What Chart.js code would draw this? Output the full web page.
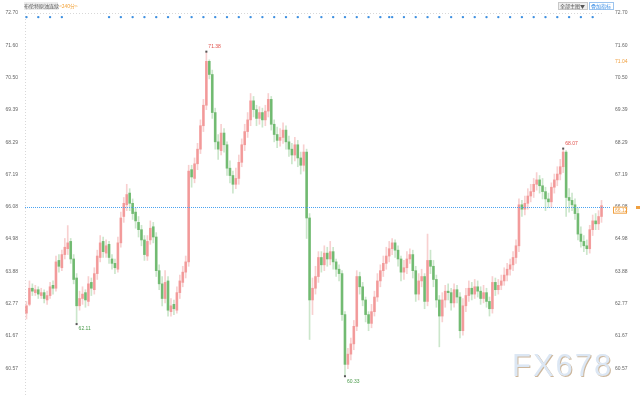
<!DOCTYPE html>
<html>
<head>
<meta charset="utf-8">
<script src="https://cdn.jsdelivr.net/npm/chart.js@4.4.0/dist/chart.umd.min.js"></script>
<style>
  html, body { margin: 0; padding: 0; background: #fff; }
  #wrap { width: 640px; height: 400px; }
</style>
</head>
<body>
<div id="wrap"><canvas id="myChart" width="640" height="400"></canvas></div>
<script>
// 240-minute candles
const opens = [62.45,62.75,63.30,63.15,63.25,63.05,63.15,62.90,63.05,63.40,63.30,64.25,64.00,64.45,64.65,64.90,64.30,63.65,62.70,62.95,
  63.15,62.85,63.50,63.25,63.80,64.35,64.90,64.50,64.80,64.30,64.15,63.95,64.85,65.75,66.15,66.55,66.20,65.90,65.55,65.30,
  64.95,64.40,64.95,65.40,65.05,63.90,63.45,62.95,63.55,62.50,62.75,62.55,63.15,63.50,63.85,64.20,67.35,67.05,67.55,68.05,
  68.85,69.55,71.05,70.60,69.30,68.30,68.00,68.60,68.20,67.40,67.15,66.85,67.05,67.60,68.20,68.65,69.05,69.70,69.40,69.10,
  69.30,69.05,69.35,69.75,68.90,68.55,68.35,68.45,68.70,68.30,68.05,67.85,68.20,67.75,67.50,67.95,65.70,62.90,63.30,63.70,
  64.35,64.10,64.50,64.30,64.55,64.20,63.95,63.80,62.40,60.70,61.05,61.40,62.00,63.70,63.35,62.90,62.40,62.10,62.50,63.00,
  63.55,63.90,64.15,64.40,64.65,64.85,64.60,64.30,63.85,64.00,64.30,64.45,63.90,63.10,63.55,63.70,62.85,64.25,64.05,63.60,
  62.90,62.35,62.90,63.20,63.15,62.80,63.25,63.00,61.85,62.70,63.05,63.30,63.10,63.35,63.20,62.95,63.15,62.85,62.60,63.50,
  63.25,63.40,63.55,63.75,63.95,64.10,64.35,64.75,66.15,66.00,66.20,66.45,66.60,66.85,67.00,66.80,66.60,66.35,66.25,66.75,
  67.00,67.20,67.45,67.95,66.40,66.30,66.15,65.85,65.15,64.90,64.75,64.65,65.30,65.60,65.50,65.75];
const highs = [62.85,63.55,63.45,63.40,63.35,63.30,63.25,63.20,63.50,63.55,64.40,64.45,64.60,65.00,65.44,65.00,64.45,63.80,63.20,63.35,
  63.25,63.70,63.65,64.00,64.60,65.10,65.05,64.95,64.90,64.45,64.30,65.05,65.90,66.40,66.85,66.70,66.35,66.05,65.75,65.45,
  65.10,65.10,65.60,65.55,65.20,64.10,63.70,63.90,63.70,62.95,62.90,63.35,63.75,64.05,64.40,67.50,67.50,67.75,68.25,69.05,
  69.75,71.38,71.10,70.75,69.45,68.55,68.90,68.75,68.30,67.65,67.30,67.40,67.85,68.40,68.90,69.30,69.95,69.85,69.55,69.50,
  69.45,69.55,69.95,69.85,69.05,68.80,68.75,68.95,68.85,68.50,68.25,68.45,68.35,67.95,68.20,68.05,65.85,63.65,64.05,64.55,
  64.55,64.75,64.70,64.90,64.70,64.30,64.10,63.90,62.50,61.25,61.60,62.20,63.90,63.85,63.50,63.00,62.50,62.75,63.20,63.80,
  64.10,64.40,64.70,64.90,65.00,64.95,64.75,64.40,64.25,64.55,64.65,64.60,64.05,63.80,63.95,63.80,65.15,64.60,64.25,63.75,
  63.05,63.15,63.40,63.45,63.30,63.45,63.40,63.15,62.95,63.30,63.55,63.50,63.60,63.55,63.35,63.40,63.30,63.00,63.70,63.65,
  63.60,63.75,64.00,64.15,64.30,64.55,64.95,66.35,66.30,66.45,66.70,66.85,67.05,67.25,67.15,67.05,66.75,66.55,66.90,67.20,
  67.45,67.70,68.07,68.00,66.70,66.55,66.35,66.05,65.40,65.10,64.95,65.45,65.80,65.85,65.95,66.30];
const lows = [62.25,62.70,63.05,63.05,62.95,62.95,62.80,62.75,62.95,63.10,63.20,63.85,63.90,64.30,64.45,64.15,63.45,62.11,62.55,62.75,
  62.65,62.70,63.05,63.10,63.60,64.20,64.35,64.35,64.15,63.95,63.80,63.85,64.70,65.55,65.95,65.95,65.65,65.35,65.05,64.75,
  64.25,64.25,64.80,64.85,63.70,63.25,62.70,62.80,62.35,62.35,62.40,62.45,62.95,63.35,63.65,64.05,66.75,66.90,67.35,67.90,
  68.65,69.40,70.45,69.10,68.05,67.70,67.85,67.95,67.15,66.90,66.55,66.70,66.85,67.45,68.00,68.45,68.85,69.15,68.85,68.90,
  68.80,68.85,69.15,68.70,68.30,68.10,68.15,68.25,68.05,67.80,67.55,67.65,67.45,67.20,67.30,65.00,61.55,62.40,63.10,63.50,
  63.85,63.90,64.05,64.10,63.95,63.70,63.55,62.20,60.33,60.55,60.85,61.20,61.85,63.10,62.70,62.15,61.85,61.95,62.35,62.85,
  63.35,63.70,63.95,64.20,64.45,64.35,64.05,63.55,63.60,63.80,64.15,63.65,62.85,62.90,63.35,62.60,62.70,63.80,63.35,62.65,
  61.30,62.15,62.65,62.90,62.55,62.65,62.80,61.60,61.70,62.50,62.85,62.90,62.95,63.00,62.75,62.80,62.65,62.35,62.45,63.05,
  63.10,63.25,63.40,63.55,63.75,63.90,64.15,64.55,65.75,65.80,66.00,66.25,66.40,66.65,66.55,66.35,65.95,66.05,66.05,66.55,
  66.80,67.00,67.25,65.75,65.90,65.95,65.65,64.95,64.70,64.55,64.45,64.50,65.10,65.30,65.30,65.55];
const closes = [62.70,63.30,63.20,63.25,63.10,63.15,62.95,63.05,63.35,63.30,64.20,64.05,64.45,64.70,64.85,64.30,63.60,62.70,62.95,63.10,
  62.90,63.45,63.30,63.80,64.40,64.85,64.55,64.75,64.35,64.15,64.00,64.85,65.70,66.20,66.50,66.20,65.85,65.60,65.30,64.95,
  64.45,64.90,65.35,65.05,63.90,63.45,62.95,63.50,62.55,62.70,62.60,63.15,63.55,63.85,64.20,67.30,67.10,67.55,68.05,68.85,
  69.55,71.05,70.60,69.30,68.30,68.05,68.60,68.20,67.40,67.15,66.85,67.05,67.60,68.20,68.65,69.05,69.70,69.40,69.10,69.30,
  69.05,69.35,69.75,68.90,68.55,68.35,68.45,68.70,68.30,68.05,67.85,68.20,67.75,67.50,67.95,65.70,62.90,63.30,63.70,64.35,
  64.10,64.50,64.30,64.55,64.20,63.95,63.80,62.40,60.70,61.05,61.40,62.00,63.70,63.35,62.90,62.40,62.10,62.50,63.00,63.55,
  63.90,64.15,64.40,64.65,64.85,64.60,64.30,63.85,64.00,64.30,64.45,63.90,63.10,63.55,63.70,62.85,64.25,64.05,63.60,62.90,
  62.35,62.90,63.20,63.15,62.80,63.25,63.00,61.85,62.70,63.05,63.30,63.10,63.35,63.20,62.95,63.15,62.85,62.60,63.50,63.25,
  63.40,63.55,63.75,63.95,64.10,64.35,64.75,66.15,66.00,66.20,66.45,66.60,66.85,67.00,66.80,66.60,66.35,66.25,66.75,67.00,
  67.20,67.45,67.95,66.40,66.30,66.15,65.85,65.15,64.90,64.75,64.65,65.30,65.60,65.50,65.75,66.12];

const yTicks = [72.70, 71.60, 70.50, 69.39, 68.29, 67.19, 66.08, 64.98, 63.88, 62.77, 61.67, 60.57];
const eventBars = [0,4,8,12,28,32,36,40,44,48,52,56,60,64,68,72,76,80,84,88,92,96,100,104,108,112,116,120,123,124,128,
  132,136,140,144,148,152,156,160,164,168,172,176,180,184,188,192];
const eventLevel = 72.56;
const refLevel = 66.08;     // blue dotted line
const lastPrice = 66.12;
const sideLevel = 71.04;    // orange mark on right axis
const markedHighs = [61, 182];
const markedLows = [17, 108];

const labels = closes.map((_, i) => 'K' + (i + 1));
const isUp = closes.map((c, i) => c >= opens[i]);

const overlay = {
  id: 'overlay',
  beforeDatasetsDraw(chart) {
    const ctx = chart.ctx, a = chart.chartArea;
    ctx.save();
    // faint dotted frame lines
    ctx.strokeStyle = '#d8d8d8';
    ctx.setLineDash([1, 2]);
    ctx.lineWidth = 1;
    ctx.beginPath();
    ctx.moveTo(a.left + 0.5, a.top); ctx.lineTo(a.left + 0.5, a.bottom);
    ctx.moveTo(a.left, a.top + 0.5); ctx.lineTo(a.right, a.top + 0.5);
    ctx.stroke();
    // watermark
    ctx.setLineDash([]);
    ctx.font = '31px "Liberation Sans", Arial, sans-serif';
    ctx.textBaseline = 'alphabetic';
    ctx.letterSpacing = '2px';
    ctx.fillStyle = '#cdb79c';
    ctx.fillText('FX678', 513, 377);
    ctx.fillStyle = '#dce7f4';
    ctx.fillText('FX678', 512, 376);
    ctx.restore();
  },
  afterDatasetsDraw(chart) {
    const ctx = chart.ctx, a = chart.chartArea;
    const y = chart.scales.y, x = chart.scales.x;
    ctx.save();
    // reference line, drawn as 1px blue dots
    const ry = Math.round(y.getPixelForValue(refLevel));
    ctx.fillStyle = '#4aa3f2';
    for (let px = Math.round(a.left); px < a.right + 8; px += 2) {
      ctx.fillRect(px, ry, 1, 1);
    }

    ctx.font = '5px "Liberation Sans", Arial, sans-serif';
    ctx.textBaseline = 'middle';
    // marked highs / lows
    markedHighs.forEach(i => {
      const px = x.getPixelForValue(i), py = y.getPixelForValue(highs[i]);
      ctx.fillStyle = '#555';
      ctx.fillRect(px - 1, py - 1, 2, 2);
      ctx.fillStyle = '#e0504a';
      ctx.fillText(highs[i].toFixed(2), px + 2, py - 5);
    });
    markedLows.forEach(i => {
      const px = x.getPixelForValue(i), py = y.getPixelForValue(lows[i]);
      ctx.fillStyle = '#555';
      ctx.fillRect(px - 1, py, 2, 2);
      ctx.fillStyle = '#4a9a4a';
      ctx.fillText(lows[i].toFixed(2), px + 2, py + 6);
    });

    // right side price labels
    const ly = y.getPixelForValue(lastPrice) + 4;
    ctx.fillStyle = '#fff';
    ctx.fillRect(613, ly - 3, 14, 7);
    ctx.strokeStyle = '#f0a040';
    ctx.strokeRect(613.5, ly - 2.5, 13, 6);
    ctx.fillStyle = '#f0a040';
    ctx.fillText(lastPrice.toFixed(2), 615, ly + 0.5);
    ctx.fillRect(636, ry - 1, 4, 3);
    ctx.fillText(sideLevel.toFixed(2), 615, y.getPixelForValue(sideLevel));

    // title
    ctx.font = '5px "Noto Sans CJK SC", sans-serif';
    ctx.fillStyle = '#ececec';
    ctx.fillRect(24, 2, 34, 8);
    ctx.fillStyle = '#555';
    ctx.fillText('布伦特原油连续', 24, 6);
    ctx.fillStyle = '#f2a33a';
    ctx.fillText('<240分>', 59, 6);

    // top-right buttons
    ctx.fillStyle = '#eeeeee';
    ctx.fillRect(558, 2, 29, 7);
    ctx.strokeStyle = '#c8c8c8';
    ctx.strokeRect(558.5, 2.5, 29, 7);
    ctx.fillStyle = '#555';
    ctx.fillText('全部主图▼', 560, 6);
    ctx.strokeStyle = '#9cc4ee';
    ctx.strokeRect(589.5, 2.5, 24, 7);
    ctx.fillStyle = '#3a8ee6';
    ctx.fillText('叠加指标', 591, 6);
    ctx.restore();
  }
};

const axisFont = { size: 5, family: '"Liberation Sans", Arial, sans-serif' };
const fitAxis = w => s => { s.width = w; s.paddingTop = 0; s.paddingBottom = 0; };

new Chart(document.getElementById('myChart'), {
  type: 'bar',
  data: {
    labels: labels,
    datasets: [
      {
        label: 'events',
        type: 'line',
        data: labels.map((_, i) => eventBars.includes(i) ? eventLevel : null),
        showLine: false,
        pointRadius: 1.2,
        pointBackgroundColor: '#3d8fe0',
        pointBorderWidth: 0,
        order: 0
      },
      {
        label: 'wick',
        data: highs.map((h, i) => [lows[i], h]),
        backgroundColor: isUp.map(u => u ? 'rgba(240,150,150,0.45)' : 'rgba(140,200,140,0.45)'),
        barThickness: 1,
        grouped: false,
        order: 2
      },
      {
        label: 'body',
        data: opens.map((o, i) => [o, closes[i]]),
        backgroundColor: isUp.map(u => u ? 'rgba(240,135,135,0.75)' : 'rgba(90,175,90,0.8)'),
        barThickness: 2,
        minBarLength: 1,
        grouped: false,
        order: 1
      }
    ]
  },
  options: {
    responsive: false,
    animation: false,
    layout: { padding: { top: 13, bottom: 3, left: 0, right: 0 } },
    plugins: { legend: { display: false }, tooltip: { enabled: false } },
    scales: {
      x: { display: false, offset: true },
      y: {
        position: 'left',
        min: 59.62, max: 72.70,
        afterBuildTicks: s => { s.ticks = yTicks.map(v => ({ value: v })); },
        afterFit: fitAxis(25),
        grid: { display: false, drawTicks: false },
        border: { display: false },
        ticks: { font: axisFont, color: '#666', padding: 7, callback: v => v.toFixed(2) }
      },
      yR: {
        position: 'right',
        min: 59.62, max: 72.70,
        afterBuildTicks: s => { s.ticks = yTicks.map(v => ({ value: v })); },
        afterFit: fitAxis(37),
        grid: { display: false, drawTicks: false },
        border: { display: false },
        ticks: { font: axisFont, color: '#666', padding: 12, callback: v => v.toFixed(2) }
      }
    }
  },
  plugins: [overlay]
});
</script>
</body>
</html>
